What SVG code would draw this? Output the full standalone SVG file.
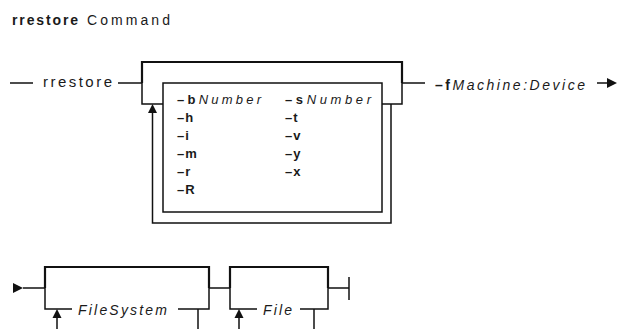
<svg xmlns="http://www.w3.org/2000/svg" width="617" height="329" viewBox="0 0 617 329">
<style>
text{font-family:"Liberation Sans",Arial,sans-serif;fill:#1a1a1a}
.t{font-size:14px}
.o{font-size:13px;font-weight:bold;letter-spacing:1px}
.v{font-style:italic;font-weight:normal}
.b{font-weight:bold}
.ln{fill:none;stroke:#111;stroke-width:1.5}
.th{fill:none;stroke:#111;stroke-width:2.2}
.ah{fill:#111}
</style>
<rect width="617" height="329" fill="#fff"/>
<g id="title">
<text class="t b" x="12" y="25" textLength="66" lengthAdjust="spacing">rrestore</text>
<text class="t" x="87" y="25" textLength="83" lengthAdjust="spacing">Command</text>
</g>
<g id="connectors">
<path class="ln" d="M10,83 H33"/>
<path class="ln" d="M118,83 H142"/>
<path class="th" d="M142,83 V62 H402 V83"/>
<path class="ln" d="M142,83 V104 H163"/>
<path class="ln" d="M382,104 H402 V83 H425"/>
<path class="ln" d="M152.5,112 V223 H391 V104"/>
<polygon class="ah" points="152.5,104 148,113 157,113"/>
<path class="ln" d="M597,83 H608"/>
<polygon class="ah" points="617,83 607,78 607,88"/>
<polygon class="ah" points="13,283 23,288 13,293"/>
<path class="ln" d="M23,288 H45"/>
<path class="th" d="M45,288 V267 H209 V288"/>
<path class="ln" d="M45,288 V309 H72"/>
<path class="ln" d="M178,309 H209 V288 H230"/>
<path class="ln" d="M57,317 V335"/>
<polygon class="ah" points="57,309 52.5,318 61.5,318"/>
<path class="ln" d="M198,309 V335"/>
<path class="th" d="M230,288 V267 H328 V288"/>
<path class="ln" d="M230,288 V309 H257"/>
<path class="ln" d="M300,309 H328 V288 H349"/>
<path class="ln" d="M349,277 V300"/>
<path class="ln" d="M239,317 V335"/>
<polygon class="ah" points="239,309 234.5,318 243.5,318"/>
<path class="ln" d="M314,309 V335"/>
</g>
<g id="cmd">
<text x="43" y="87" font-size="15" textLength="69" lengthAdjust="spacing">rrestore</text>
</g>
<g id="options">
<rect class="ln" x="163" y="83" width="219" height="129" stroke-width="1.3"/>
<text class="o" x="177" y="104" textLength="85" lengthAdjust="spacing" letter-spacing="0">–b<tspan class="v">Number</tspan></text>
<text class="o" x="177" y="122">–h</text>
<text class="o" x="177" y="140">–i</text>
<text class="o" x="177" y="158">–m</text>
<text class="o" x="177" y="176">–r</text>
<text class="o" x="177" y="194">–R</text>
<text class="o" x="285" y="104" textLength="87" lengthAdjust="spacing" letter-spacing="0">–s<tspan class="v">Number</tspan></text>
<text class="o" x="285" y="122">–t</text>
<text class="o" x="285" y="140">–v</text>
<text class="o" x="285" y="158">–y</text>
<text class="o" x="285" y="176">–x</text>
</g>
<g id="device">
<text class="t" x="435" y="90" textLength="150" lengthAdjust="spacing"><tspan class="b">–f</tspan><tspan class="v">Machine:Device</tspan></text>
</g>
<g id="filesystem">
<text class="t v" x="78" y="315" textLength="89" lengthAdjust="spacing">FileSystem</text>
</g>
<g id="file">
<text class="t v" x="263" y="315" textLength="29" lengthAdjust="spacing">File</text>
</g>
</svg>
